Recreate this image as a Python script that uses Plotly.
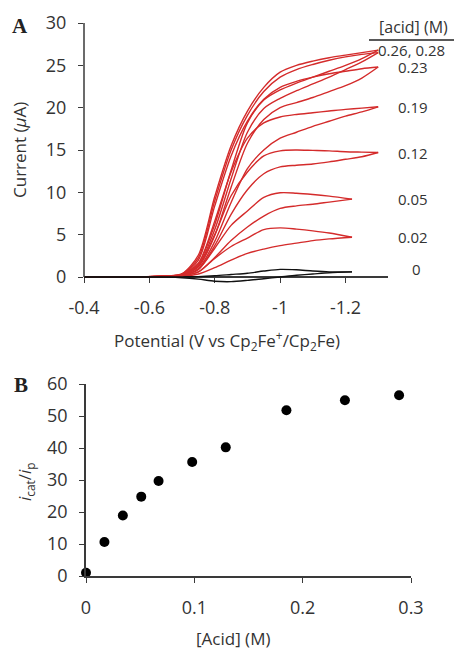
import plotly.graph_objects as go

# The page body has an 8px margin, so the figure is sized to the visible area
OFF = 8
W, H = 462 - OFF, 649 - OFF

# ---------------- Panel A data (cyclic voltammograms) ----------------
E_hi = [-0.40, -0.55, -0.65, -0.70, -0.75, -0.80, -0.85, -0.90, -0.95, -1.00,
        -1.05, -1.10, -1.15, -1.20, -1.25, -1.30]
E_lo = [-0.40, -0.55, -0.65, -0.70, -0.75, -0.80, -0.85, -0.90, -0.95, -1.00,
        -1.05, -1.10, -1.15, -1.22]

fwd_028 = [0, 0.02, 0.1, 0.4, 2.6, 9.5, 15.5, 19.6, 22.4, 24.2, 25.0, 25.5, 25.9, 26.2, 26.5, 26.8]
ret_028 = [0, 0.02, 0.1, 0.3, 1.6, 6.2, 12.6, 18.2, 20.9, 22.1, 22.9, 23.6, 24.3, 25.0, 25.8, 26.8]
fwd_026 = [0, 0.02, 0.1, 0.35, 2.3, 9.0, 15.0, 19.1, 21.9, 23.6, 24.5, 25.1, 25.6, 26.0, 26.3, 26.5]
ret_026 = [0, 0.02, 0.1, 0.3, 1.4, 5.6, 11.6, 17.1, 19.9, 21.1, 22.0, 22.8, 23.6, 24.5, 25.4, 26.5]
fwd_023 = [0, 0.02, 0.1, 0.3, 2.0, 8.4, 14.3, 18.4, 21.0, 22.4, 23.1, 23.6, 24.0, 24.3, 24.6, 24.8]
ret_023 = [0, 0.02, 0.1, 0.25, 1.2, 4.9, 10.6, 15.8, 18.6, 20.0, 20.6, 21.2, 21.9, 22.6, 23.5, 24.8]
fwd_019 = [0, 0.02, 0.1, 0.3, 1.6, 6.6, 12.4, 16.4, 18.2, 18.9, 19.2, 19.4, 19.6, 19.8, 19.95, 20.1]
ret_019 = [0, 0.02, 0.1, 0.2, 1.0, 4.2, 8.8, 12.8, 15.0, 16.4, 17.1, 17.8, 18.4, 19.0, 19.5, 20.1]
fwd_012 = [0, 0.02, 0.1, 0.25, 1.3, 5.0, 9.6, 12.4, 14.3, 14.9, 15.0, 14.95, 14.9, 14.8, 14.75, 14.7]
ret_012 = [0, 0.02, 0.1, 0.2, 0.9, 3.7, 7.4, 10.3, 12.2, 13.0, 13.2, 13.35, 13.6, 13.9, 14.2, 14.7]
fwd_005 = [0, 0.02, 0.08, 0.2, 0.9, 3.4, 6.1, 7.8, 9.4, 9.95, 9.9, 9.75, 9.55, 9.2]
ret_005 = [0, 0.02, 0.08, 0.15, 0.6, 2.3, 4.3, 5.9, 7.2, 8.1, 8.4, 8.6, 8.85, 9.2]
fwd_002 = [0, 0.02, 0.06, 0.15, 0.6, 2.2, 3.6, 4.6, 5.6, 5.8, 5.65, 5.45, 5.2, 4.7]
ret_002 = [0, 0.02, 0.06, 0.1, 0.35, 1.1, 2.0, 2.8, 3.3, 3.7, 4.0, 4.3, 4.5, 4.7]
fwd_000 = [0, 0, 0, 0.02, 0.05, 0.15, 0.3, 0.45, 0.7, 0.9, 0.85, 0.7, 0.6, 0.6]
ret_000 = [0, 0, -0.02, -0.08, -0.25, -0.5, -0.55, -0.4, -0.2, 0.0, 0.2, 0.35, 0.5, 0.6]

acid_labels = ["0.26, 0.28", "0.23", "0.19", "0.12", "0.05", "0.02", "0"]
label_currents = [26.8, 24.8, 20.1, 14.7, 9.2, 4.7, 1.0]

A_xticks = [-0.4, -0.6, -0.8, -1.0, -1.2]
A_xticktext = ["-0.4", "-0.6", "-0.8", "-1", "-1.2"]
A_yticks = [0, 5, 10, 15, 20, 25, 30]

# ---------------- Panel B data ----------------
acid_conc = [0.0, 0.017, 0.034, 0.051, 0.067, 0.098, 0.129, 0.185, 0.239, 0.289]
icat_ip = [1.0, 10.6, 18.9, 24.8, 29.7, 35.6, 40.2, 51.8, 54.9, 56.5]
B_xticks = [0, 0.1, 0.2, 0.3]
B_xticktext = ["0", "0.1", "0.2", "0.3"]
B_yticks = [0, 10, 20, 30, 40, 50, 60]

RED = "#d42b2b"
TXT = "#333333"
FONT = "Open Sans"

def px(x):
    return (x - OFF) / W

def py(y):
    return 1 - (y - OFF) / H

fig = go.Figure()

red_pairs = [(E_hi, fwd_028, ret_028), (E_hi, fwd_026, ret_026), (E_hi, fwd_023, ret_023),
             (E_hi, fwd_019, ret_019), (E_hi, fwd_012, ret_012),
             (E_lo, fwd_005, ret_005), (E_lo, fwd_002, ret_002)]
for E, f, r in red_pairs:
    for vals in (f, r):
        fig.add_trace(go.Scatter(x=E, y=vals, mode="lines", xaxis="x", yaxis="y",
                                 line=dict(color=RED, width=1.4, shape="spline", smoothing=0.8),
                                 showlegend=False, hoverinfo="skip"))
for vals in (fwd_000, ret_000):
    fig.add_trace(go.Scatter(x=E_lo, y=vals, mode="lines", xaxis="x", yaxis="y",
                             line=dict(color="#111111", width=1.4, shape="spline", smoothing=0.8),
                             showlegend=False, hoverinfo="skip"))

fig.add_trace(go.Scatter(x=acid_conc, y=icat_ip, mode="markers", xaxis="x2", yaxis="y2",
                         marker=dict(color="black", size=10), cliponaxis=False,
                         showlegend=False, hoverinfo="skip"))

# Panel A geometry: y=0 at pixel 277, y=30 at pixel 23
ymin_A = -0.8
pix_per = (277 - 23) / 30.0
bottom_pix = 277 - ymin_A * pix_per

axis_col = "#3a3a3a"
tickfont = dict(family=FONT, size=18, color=TXT)

fig.update_layout(
    template="none",
    width=W, height=H, margin=dict(l=0, r=0, t=0, b=0, pad=0),
    paper_bgcolor="white", plot_bgcolor="white",
    xaxis=dict(domain=[px(84), px(388)], range=[-0.4, -1.33], anchor="free",
               position=py(277), tickvals=A_xticks, ticktext=A_xticktext,
               showgrid=False, zeroline=False, showline=True, linecolor=axis_col,
               linewidth=1.5, ticks="outside", ticklen=5, tickcolor=axis_col,
               tickfont=tickfont, ticklabelstandoff=10, layer="below traces",
               automargin=False),
    yaxis=dict(domain=[py(bottom_pix), py(23)], range=[ymin_A, 30], anchor="x",
               tickvals=A_yticks, showgrid=False, zeroline=False, showline=False,
               ticks="outside", ticklen=5, tickcolor=axis_col, tickfont=tickfont,
               ticklabelstandoff=8, automargin=False),
    xaxis2=dict(domain=[px(86), px(411)], range=[0, 0.3], anchor="y2",
                tickvals=B_xticks, ticktext=B_xticktext, showgrid=False, zeroline=False,
                showline=True, linecolor=axis_col, linewidth=1.5, ticks="outside",
                ticklen=5, tickcolor=axis_col, tickfont=tickfont, ticklabelstandoff=10,
                automargin=False),
    yaxis2=dict(domain=[py(576), py(384)], range=[0, 60], anchor="x2",
                tickvals=B_yticks, showgrid=False, zeroline=False, showline=True,
                linecolor=axis_col, linewidth=1.5, ticks="outside", ticklen=5,
                tickcolor=axis_col, tickfont=tickfont, ticklabelstandoff=8,
                automargin=False),
)

shapes = [
    dict(type="line", xref="paper", yref="y", x0=px(84), x1=px(84), y0=0, y1=30,
         line=dict(color=axis_col, width=1.5)),
    dict(type="line", xref="paper", yref="paper", x0=px(369), x1=px(462),
         y0=py(40), y1=py(40), line=dict(color="#222222", width=1.5)),
]
fig.update_layout(shapes=shapes)

ann = []
titlefont = dict(family=FONT, size=17, color=TXT)

def add_ann(text, x, y, font, yref="paper", angle=0):
    ann.append(dict(text=text, x=x, y=y, xref="paper", yref=yref, textangle=angle,
                    xanchor="center", yanchor="middle", showarrow=False, font=font))

add_ann("Current (<i>µ</i>A)", px(20), py(150), titlefont, angle=-90)
add_ann("Potential (V vs Cp<sub>2</sub>Fe<sup>+</sup>/Cp<sub>2</sub>Fe)", px(227), py(340), titlefont)
add_ann("<i>i</i><sub>cat</sub>/<i>i</i><sub>p</sub>", px(25), py(482), titlefont, angle=-90)
add_ann("[Acid] (M)", px(233), py(638), titlefont)
serif = dict(family="Liberation Serif", size=21, color="#222222")
add_ann("<b>A</b>", px(20), py(26), serif)
add_ann("<b>B</b>", px(21), py(385), serif)
add_ann("[acid] (M)", px(413), py(27), dict(family=FONT, size=16, color=TXT))
label_x = [411, 413, 413, 413, 413, 413, 416]
for lab, cur, lx in zip(acid_labels, label_currents, label_x):
    add_ann(lab, px(lx), cur, dict(family=FONT, size=15, color=TXT), yref="y")
fig.update_layout(annotations=ann)

fig.write_html("out.html")
